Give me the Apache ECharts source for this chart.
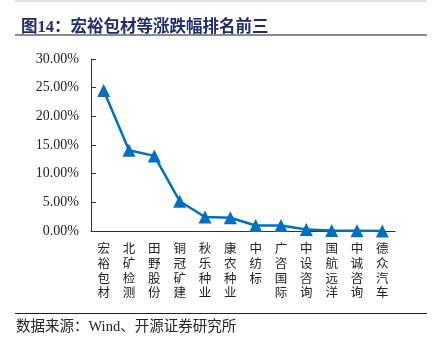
<!DOCTYPE html>
<html>
<head>
<meta charset="utf-8">
<script src="https://cdn.jsdelivr.net/npm/echarts@6/dist/echarts.min.js"></script>
<style>
  html, body { margin: 0; padding: 0; background: #fff; }
  #main { width: 436px; height: 351px; }
</style>
</head>
<body>
<div id="main"></div>
<script>
// 涨跌幅排名（%）
var categories = ['宏裕包材', '北矿检测', '田野股份', '铜冠矿建', '秋乐种业', '康农种业',
  '中纺标', '广咨国际', '中设咨询', '国航远洋', '中诚咨询', '德众汽车'];
var changes = [24.5, 14.1, 13.1, 5.2, 2.45, 2.3, 0.95, 0.95, 0.25, 0.1, 0.05, 0.0];
var yTicks = [0, 5, 10, 15, 20, 25, 30];

var myChart = echarts.init(document.getElementById('main'), null, { renderer: 'canvas' });

var option = {
  backgroundColor: '#fff',
  animation: false,
  title: {
    text: '图14：宏裕包材等涨跌幅排名前三',
    left: 16,
    top: 14,
    textStyle: {
      color: '#1F2D6B',
      fontSize: 16.5,
      fontWeight: 'bold',
      fontFamily: '"Liberation Serif", "Noto Sans CJK SC", serif'
    }
  },
  graphic: [
    { type: 'line', shape: { x1: 15, y1: 1, x2: 427, y2: 1 }, style: { stroke: '#c8c8c8', lineWidth: 1 } },
    { type: 'line', shape: { x1: 15, y1: 35, x2: 427, y2: 35 }, style: { stroke: '#8c8c8c', lineWidth: 2 } },
    { type: 'line', shape: { x1: 15, y1: 313.5, x2: 427, y2: 313.5 }, style: { stroke: '#222', lineWidth: 1 } },
    {
      type: 'text', left: 16, top: 320,
      style: {
        text: '数据来源：Wind、开源证券研究所',
        fill: '#222',
        font: '14.5px "Liberation Serif", "Noto Sans CJK SC", serif'
      }
    }
  ],
  grid: { left: 91, top: 59, right: 41, bottom: 120 },
  xAxis: {
    type: 'category',
    data: categories,
    boundaryGap: true,
    axisLine: { lineStyle: { color: '#333', width: 1 } },
    axisTick: { inside: true, length: 4, lineStyle: { color: '#333' } },
    axisLabel: {
      margin: 10,
      color: '#222',
      fontSize: 12.5,
      lineHeight: 14.7,
      fontFamily: '"Noto Sans CJK SC", sans-serif',
      interval: 0,
      verticalAlign: 'top',
      formatter: function (v) { return v.split('').join('\n'); }
    }
  },
  yAxis: {
    type: 'value',
    min: 0,
    max: 30,
    interval: 5,
    splitLine: { show: false },
    axisLine: { show: true, lineStyle: { color: '#333', width: 1 } },
    axisTick: { show: true, inside: true, length: 5, lineStyle: { color: '#333' } },
    axisLabel: {
      margin: 12,
      color: '#222',
      fontSize: 14,
      fontFamily: '"Liberation Serif", serif',
      formatter: function (v) {
        return yTicks.indexOf(v) >= 0 ? v.toFixed(2) + '%' : '';
      }
    }
  },
  series: [
    {
      type: 'line',
      data: changes,
      symbol: 'triangle',
      symbolSize: 13,
      lineStyle: { color: '#0070C0', width: 2.5 },
      itemStyle: { color: '#0070C0' }
    }
  ]
};

myChart.setOption(option);
window.addEventListener('resize', function () { myChart.resize(); });
</script>
</body>
</html>
